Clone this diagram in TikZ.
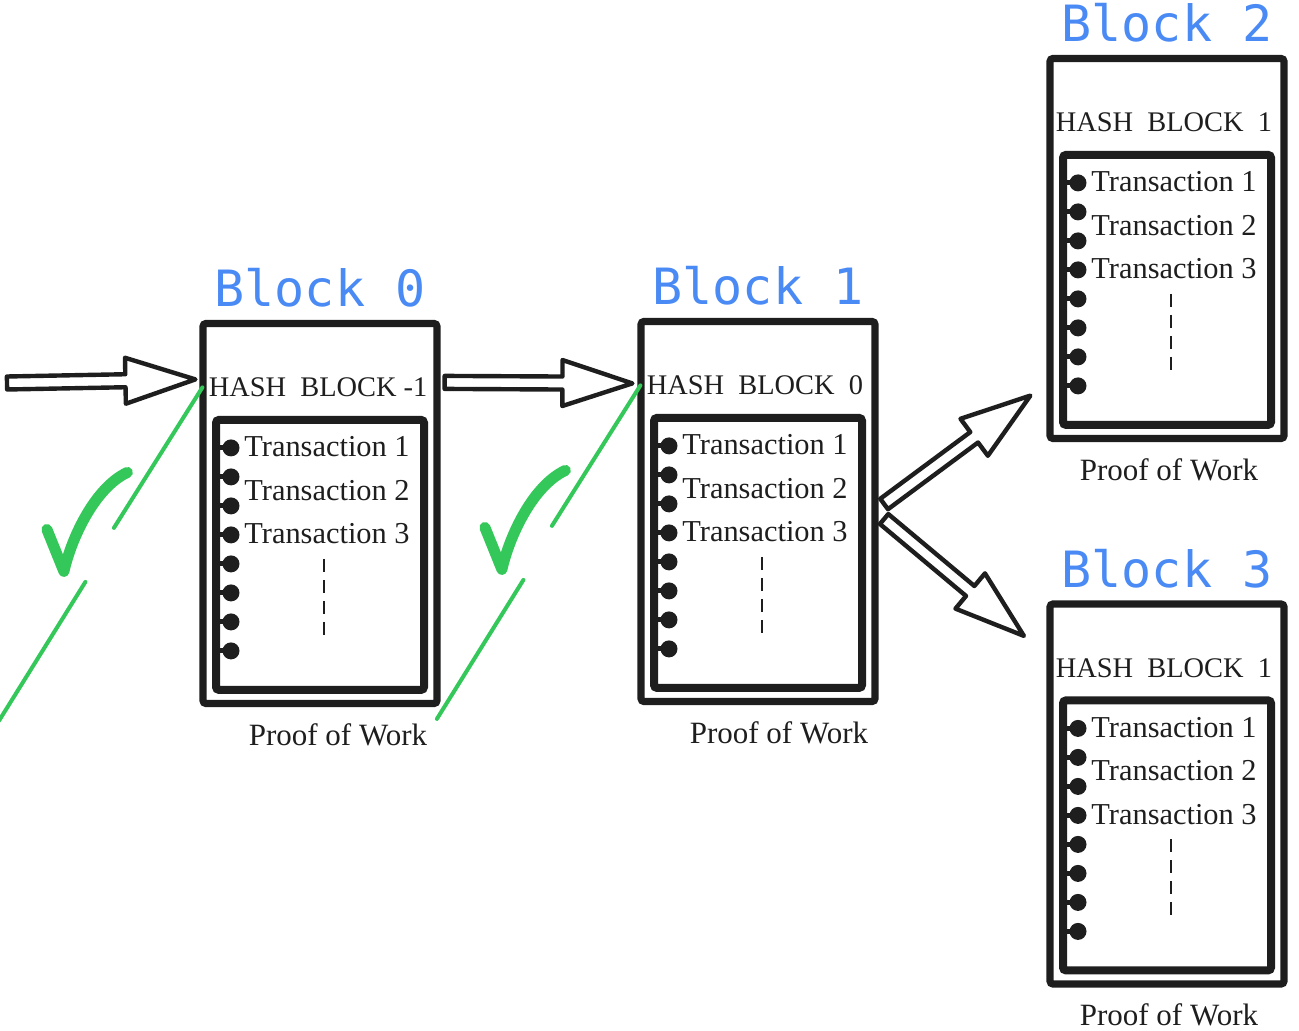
\documentclass[tikz,border=0pt]{standalone}
\usepackage{fontspec}
\setmainfont{Liberation Serif}
\newfontfamily\monofont{DejaVu Sans Mono}
\usepackage{xcolor}
\usepackage{tikz}
\usetikzlibrary{calc, positioning}
\definecolor{inkblack}{HTML}{1E1E1E}
\definecolor{titleblue}{HTML}{4A8AF4}
\definecolor{tickgreen}{HTML}{34C759}

\begin{document}
\begin{tikzpicture}[
  x=0.5pt, y=-0.5pt,
  blockframe/.style={draw=inkblack, line width=3.6pt, rounded corners=1.5pt, inner sep=0pt,
    minimum width=117pt, minimum height=190pt},
  ledger/.style={draw=inkblack, line width=4pt, rounded corners=1.5pt, inner sep=0pt,
    minimum width=104pt, minimum height=135pt},
  blocktitle/.style={text=titleblue, font=\monofont\fontsize{25pt}{30pt}\selectfont, inner sep=0pt},
  hashtext/.style={text=inkblack, font=\fontsize{14.2pt}{17pt}\selectfont, inner sep=0pt, anchor=base west},
  txtext/.style={text=inkblack, font=\fontsize{15.2pt}{18pt}\selectfont, inner sep=0pt, anchor=base west},
  prooftext/.style={text=inkblack, font=\fontsize{15.5pt}{18pt}\selectfont, inner sep=0pt, anchor=base},
  stub/.style={draw=inkblack, line width=2.5pt},
  gapline/.style={draw=inkblack, line width=1.3pt, dash pattern=on 6.5pt off 4pt},
  hollow/.style={draw=inkblack, line width=2.2pt, line join=round,
    to path={let \p1=(\tikztostart), \p2=(\tikztotarget), \n1={atan2(\y2-\y1,\x2-\x1)} in
      ($(\p1)+(\n1+90:3.25pt)$) -- ($(\p2)+(\n1+180:35pt)+(\n1+90:3.25pt)$)
      -- ($(\p2)+(\n1+180:35pt)+(\n1+90:11.5pt)$) -- (\p2)
      -- ($(\p2)+(\n1+180:35pt)+(\n1-90:11.5pt)$) -- ($(\p2)+(\n1+180:35pt)+(\n1-90:3.25pt)$)
      -- ($(\p1)+(\n1-90:3.25pt)$) -- cycle}},
  greenline/.style={draw=tickgreen, line width=2pt, line cap=round},
  checkmark/.style={draw=tickgreen, line width=5.5pt, line cap=round, line join=round}
]
\useasboundingbox (0,0) rectangle (1299,1031);

\foreach \name/\cx/\cy/\num/\hash/\pshift in {
    b0/320/513.5/0/{HASH\ \ BLOCK -1}/18,
    b1/758/511.5/1/{HASH\ \ BLOCK\ \ 0}/21,
    b2/1167/248.5/2/{HASH\ \ BLOCK\ \ 1}/2,
    b3/1167/794/3/{HASH\ \ BLOCK\ \ 1}/2} {
  \node[blockframe] (\name) at (\cx,\cy) {};
  \node[ledger, below=48pt of \name.north] (\name-list) {};
  \node[blocktitle, above=6pt of \name] (\name-title) {Block \num};
  \node[hashtext] (\name-hash) at ($(\name.north west)+(9,77)$) {\hash};
  \foreach \k in {0,...,7} {
    \draw[stub] ($(\name-list.north west)+(0,32+29*\k)$) -- ++(19,0);
    \fill[inkblack] ($(\name-list.north west)+(19,32+29*\k)$) circle (4.25pt);
  }
  \foreach \t in {1,2,3}
    \node[txtext] (\name-tx\t) at ($(\name-list.north west)+(32,41+43.5*\t-43.5)$) {Transaction \t};
  \draw[gapline] ($(\name-list.north)+(4,143)$) -- ++(0,76);
  \node[prooftext] (\name-pow) at ($(\name.south)+(\pshift,38)$) {Proof of Work};
}

\coordinate (src) at (7,383);
\coordinate (b0-tip) at ($(b0.north west)+(-4,59.5)$);
\coordinate (b0-tail) at ($(b0.north east)+(4,62.5)$);
\coordinate (b1-tip) at ($(b1.north west)+(-5,65.5)$);
\coordinate (b1-up) at ($(b1.east)+(5.5,-7.5)$);
\coordinate (b1-dn) at ($(b1.east)+(5.5,7.5)$);
\coordinate (b2-tip) at ($(b2.south west)+(-16,-46.5)$);
\coordinate (b3-tip) at ($(b3.north west)+(-22.5,35.5)$);

\draw[hollow] (src) to (b0-tip);
\draw[hollow] (b0-tail) to (b1-tip);
\draw[hollow] (b1-up) to (b2-tip);
\draw[hollow] (b1-dn) to (b3-tip);

\foreach \name in {b0,b1} {
  \begin{scope}[shift={(\name.north west)}]
    \draw[greenline] (3,67.5) -- (-85.5,208);
    \draw[greenline] (-114,262) -- (-200.5,401);
    \draw[checkmark] (-152.5,209.5) -- (-135.5,251.5)
      .. controls (-127.5,216.5) and (-104,167.5) .. (-72,152.5);
  \end{scope}
}
\end{tikzpicture}
\end{document}
